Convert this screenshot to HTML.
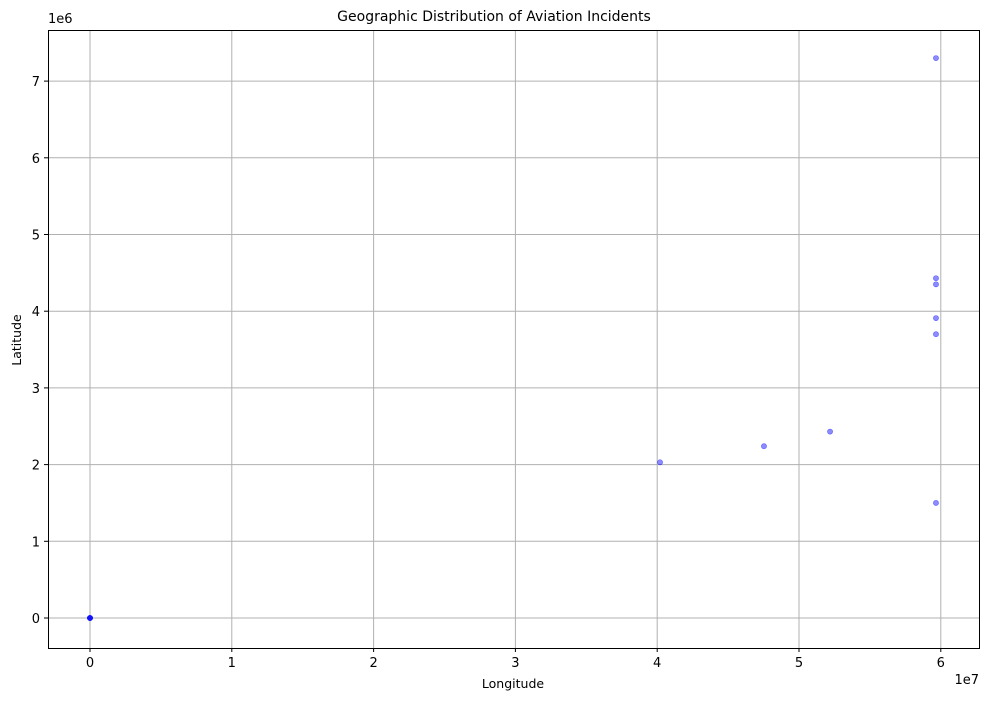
<!DOCTYPE html>
<html><head><meta charset="utf-8"><style>
body{margin:0;background:#fff;font-family:"Liberation Sans","DejaVu Sans",sans-serif;}
</style></head><body>
<svg id="chart" width="988" height="699" xmlns="http://www.w3.org/2000/svg" font-family="DejaVu Sans, Liberation Sans, sans-serif">
<rect width="988" height="699" fill="#fff"/>
<g id="grid"></g>
<g id="ticks"></g>
<g id="points"></g>
<rect x="48.5" y="30.5" width="931" height="618" fill="none" stroke="#000" stroke-width="1"/>
<text x="494" y="21" font-size="14" text-anchor="middle">Geographic Distribution of Aviation Incidents</text>
<text x="513" y="688" font-size="12.5" text-anchor="middle">Longitude</text>
<text x="21" y="340" font-size="12.5" text-anchor="middle" transform="rotate(-90 21 340)">Latitude</text>
<text x="48" y="23" font-size="13">1e6</text>
<text x="979" y="684" font-size="13" text-anchor="end">1e7</text>
</svg>
<script>
const xTicks=[0,1,2,3,4,5,6];
const yTicks=[0,1,2,3,4,5,6,7];
const lon=[0,0,0,0,5.966,5.966,5.966,5.966,5.966,5.966,4.02,4.753,5.219];
const lat=[0,0,0,0,7.30,4.43,4.35,3.91,3.70,1.50,2.03,2.24,2.43];
const NS="http://www.w3.org/2000/svg";
function sx(v){return 90+v*141.8;}
function sy(v){return 618-v*76.7;}
const grid=document.getElementById('grid'),tk=document.getElementById('ticks'),pts=document.getElementById('points');
function mk(tag,attrs,parent){const e=document.createElementNS(NS,tag);for(const k in attrs)e.setAttribute(k,attrs[k]);parent.appendChild(e);return e;}
xTicks.forEach(t=>{const x=sx(t);
 const g=mk('line',{x1:x,x2:x,y1:30,y2:648,stroke:'#b0b0b0','stroke-width':1},grid);
 
 
 const l=mk('line',{x1:x,x2:x,y1:648,y2:652,stroke:'#000'},tk);
 
 
 const tx=mk('text',{x:x,y:667,'font-size':13,'text-anchor':'middle'},tk);tx.textContent=t;
 
 
});
yTicks.forEach(t=>{const y=sy(t);
 const g=mk('line',{x1:48,x2:979,y1:y,y2:y,stroke:'#b0b0b0','stroke-width':1},grid);
 
 
 const l=mk('line',{x1:44,x2:48,y1:y,y2:y,stroke:'#000'},tk);
 
 
 const tx=mk('text',{x:40,y:y+5,'font-size':13,'text-anchor':'end'},tk);tx.textContent=t;
 
 
});
lon.forEach((v,i)=>{
 const c=mk('circle',{cx:sx(v),cy:sy(lat[i]),r:2.6,fill:'#0000ff','fill-opacity':0.45,stroke:'#0000ff','stroke-opacity':0.5,'stroke-width':0.6},pts);
 
 
});
</script>
</body></html>
